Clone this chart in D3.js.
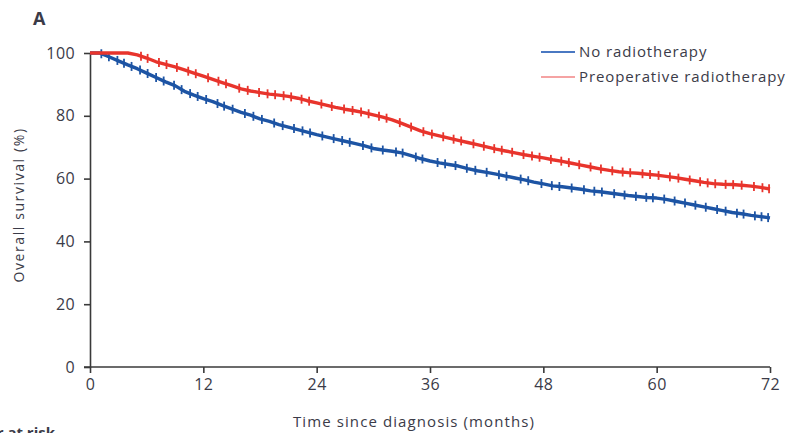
<!DOCTYPE html>
<html>
<head>
<meta charset="utf-8">
<script src="https://cdn.jsdelivr.net/npm/d3@7"></script>
<style>
  html, body { margin: 0; padding: 0; background: #fff; }
  svg { display: block; }
  text { font-family: "Open Sans", "Liberation Sans", sans-serif; fill: #3b3b48; }
</style>
</head>
<body>
<svg id="chart" width="787" height="433"></svg>
<script>
// Kaplan–Meier overall survival by treatment group
const months = d3.range(0, 73);

const noRadioSurv = [
  100, 100, 98.8, 97.5, 96.2, 95.0, 93.6, 92.2, 90.8, 89.6,
  87.8, 86.6, 85.5, 84.5, 83.3, 82.2, 81.1, 80.2, 79.0, 78.2,
  77.2, 76.4, 75.6, 74.8, 74.0, 73.3, 72.6, 71.9, 71.2, 70.5,
  69.6, 69.1, 68.7, 68.2, 67.3, 66.4, 65.6, 65.0, 64.5, 64.0,
  63.2, 62.5, 62.0, 61.4, 60.8, 60.2, 59.6, 58.9, 58.3, 57.7,
  57.4, 57.0, 56.6, 56.1, 55.8, 55.4, 55.0, 54.6, 54.3, 54.0,
  53.8, 53.4, 52.8, 52.2, 51.6, 51.0, 50.4, 49.8, 49.2, 48.8,
  48.3, 47.9, 47.5
];

const preopRadioSurv = [
  100, 100, 100, 100, 100, 99.4, 98.4, 97.2, 96.4, 95.6,
  94.6, 93.6, 92.6, 91.6, 90.6, 89.6, 88.6, 87.9, 87.4, 86.9,
  86.6, 86.2, 85.6, 84.8, 84.1, 83.4, 82.7, 82.1, 81.6, 81.0,
  80.3, 79.6, 78.7, 77.6, 76.4, 75.2, 74.3, 73.6, 72.9, 72.2,
  71.5, 70.8, 70.1, 69.4, 68.8, 68.2, 67.6, 67.1, 66.6, 66.0,
  65.5, 64.9, 64.3, 63.7, 63.1, 62.6, 62.2, 61.9, 61.7, 61.4,
  61.1, 60.7, 60.3, 59.8, 59.3, 58.8, 58.4, 58.2, 58.1, 57.9,
  57.6, 57.2, 56.7
];

// censoring times (months)
const noRadioCensor = [
  1.2, 2.0, 2.9, 3.6, 4.4, 5.3, 6.1, 7.0, 7.8, 8.9, 9.7, 10.6, 11.4, 12.3,
  13.5, 14.2, 15.1, 16.4, 17.3, 18.2, 19.5, 20.4, 21.6, 22.5, 23.3, 24.6,
  25.8, 26.7, 27.5, 28.9, 29.8, 31.0, 32.4, 33.1, 34.5, 35.2, 36.8, 37.6,
  38.7, 39.9, 40.8, 42.0, 43.3, 44.1, 45.6, 46.4, 47.8, 48.9, 49.7, 51.0,
  52.3, 53.4, 54.2, 55.5, 56.6, 57.8, 58.9, 59.6, 60.8, 61.9, 63.0, 64.1,
  65.2, 66.4, 67.3, 68.5, 69.2, 70.4, 71.1, 71.8
];
const preopRadioCensor = [
  5.4, 6.1, 7.3, 8.1, 9.2, 10.4, 11.2, 12.5, 13.6, 14.4, 15.8, 16.7, 17.9,
  18.8, 19.6, 20.5, 21.3, 22.4, 23.2, 24.5, 25.6, 26.9, 27.8, 28.7, 29.5,
  30.6, 31.4, 32.8, 34.0, 35.3, 36.2, 37.4, 38.5, 39.3, 40.6, 41.7, 42.8,
  43.6, 44.7, 45.9, 46.8, 47.6, 48.8, 49.9, 50.7, 51.8, 53.0, 54.1, 55.3,
  56.4, 57.2, 58.5, 59.3, 60.2, 61.4, 62.3, 63.5, 64.6, 65.4, 66.2, 67.3,
  68.1, 69.0, 70.3, 71.2, 71.9
];

const xTicks = [0, 12, 24, 36, 48, 60, 72];
const yTicks = [0, 20, 40, 60, 80, 100];

const groups = [
  { name: "No radiotherapy", surv: noRadioSurv, censor: noRadioCensor,
    color: "#1d54a4", legendColor: "#4a78c2" },
  { name: "Preoperative radiotherapy", surv: preopRadioSurv, censor: preopRadioCensor,
    color: "#e8342c", legendColor: "#f5a3a3" }
];

const svg = d3.select("#chart");
const x = d3.scaleLinear().domain([0, 72]).range([90, 770]);
const y = d3.scaleLinear().domain([0, 100]).range([367, 53]);

// axes
const axisColor = "#3a3a3a";
const gx = svg.append("g").attr("transform", `translate(0,${y(0)})`)
  .call(d3.axisBottom(x).tickValues(xTicks).tickSize(6).tickPadding(6).tickSizeOuter(0));
const gy = svg.append("g").attr("transform", `translate(${x(0)},0)`)
  .call(d3.axisLeft(y).tickValues(yTicks).tickSize(6).tickPadding(9).tickSizeOuter(0));
[gx, gy].forEach(g => {
  g.select(".domain").attr("stroke", axisColor).attr("stroke-width", 1.6);
  g.selectAll(".tick line").attr("stroke", axisColor).attr("stroke-width", 1.6);
  g.selectAll(".tick text").attr("font-size", 16).attr("letter-spacing", 0.4)
    .attr("fill", "#444358")
    .attr("font-family", "Open Sans, sans-serif");
});
// extend axis lines to meet at origin
gx.select(".domain").attr("d", `M${x(0) - 6},0H${x(72)}`);

// curves
const line = d3.line()
  .x((d, i) => x(months[i]))
  .y(d => y(d))
  .curve(d3.curveLinear);

const survAt = (surv, t) => {
  const i = Math.min(Math.floor(t), 71);
  const f = t - i;
  return surv[i] + (surv[i + 1] - surv[i]) * f;
};

groups.forEach(g => {
  const gg = svg.append("g");
  gg.append("path")
    .datum(g.surv)
    .attr("d", line)
    .attr("fill", "none")
    .attr("stroke", g.color)
    .attr("stroke-width", 3.4)
    .attr("stroke-linejoin", "round");
  gg.selectAll("line.censor")
    .data(g.censor)
    .join("line")
    .attr("class", "censor")
    .attr("x1", t => x(t)).attr("x2", t => x(t))
    .attr("y1", t => y(survAt(g.surv, t)) - 4.5)
    .attr("y2", t => y(survAt(g.surv, t)) + 4.5)
    .attr("stroke", g.color)
    .attr("stroke-width", 1.8);
});

// legend
const legend = svg.append("g").attr("transform", "translate(541,52)");
groups.forEach((g, i) => {
  const row = legend.append("g").attr("transform", `translate(0,${i * 25})`);
  row.append("line").attr("x1", 0).attr("x2", 34).attr("y1", 0).attr("y2", 0)
    .attr("stroke", g.legendColor).attr("stroke-width", 2.2);
  row.append("text").attr("x", 38).attr("y", 5)
    .attr("font-size", 15).attr("letter-spacing", 0.9)
    .attr("fill", "#4a4356")
    .text(g.name);
});

// titles
svg.append("text").attr("x", 33).attr("y", 25)
  .attr("font-size", 18).attr("font-weight", "bold").attr("fill", "#2a2a30")
  .text("A");

svg.append("text")
  .attr("transform", `translate(24,205) rotate(-90)`)
  .attr("text-anchor", "middle")
  .attr("font-size", 14).attr("letter-spacing", 1.6)
  .attr("fill", "#4a4356")
  .text("Overall survival (%)");

svg.append("text")
  .attr("x", 414).attr("y", 427)
  .attr("text-anchor", "middle")
  .attr("font-size", 15).attr("letter-spacing", 1.1)
  .attr("fill", "#4a4356")
  .text("Time since diagnosis (months)");

svg.append("text")
  .attr("x", 55).attr("y", 438)
  .attr("text-anchor", "end")
  .attr("font-size", 15).attr("font-weight", "bold").attr("fill", "#3a3a40")
  .text("Number at risk");
</script>
</body>
</html>
